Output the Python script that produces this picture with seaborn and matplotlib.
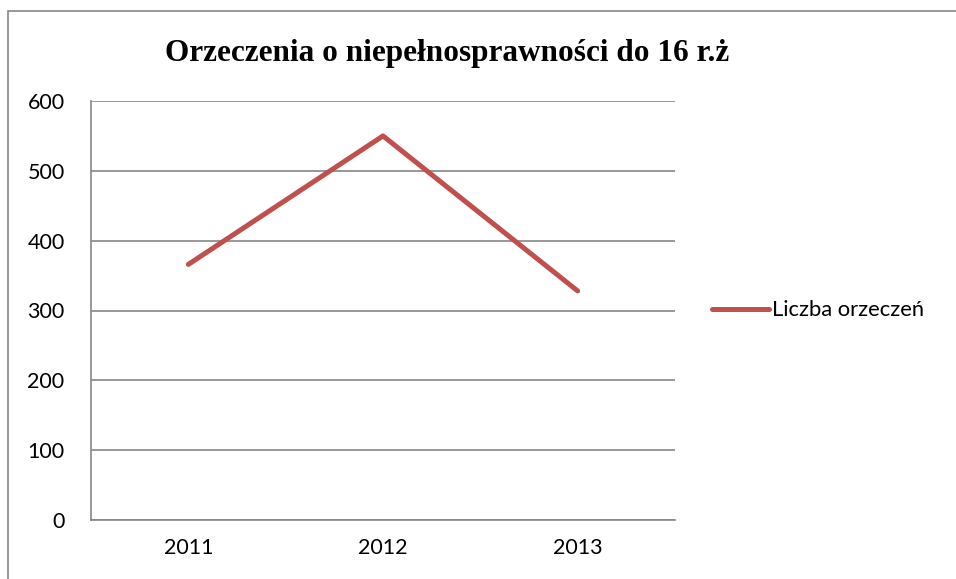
import matplotlib
matplotlib.use("Agg")
import matplotlib.pyplot as plt
import matplotlib.patches as patches
import seaborn as sns
import pandas as pd

years = ["2011", "2012", "2013"]
counts = [366, 550, 328]
series_name = "Liczba orzeczeń"
title = "Orzeczenia o niepełnosprawności do 16 r.ż"
y_ticks = [0, 100, 200, 300, 400, 500, 600]

sns.set_style("white")
plt.rcParams["font.family"] = ["Lato", "DejaVu Sans"]
plt.rcParams["text.color"] = "black"
plt.rcParams["xtick.color"] = "black"
plt.rcParams["ytick.color"] = "black"

df = pd.DataFrame({"pos": range(len(years)), "count": counts, "series": series_name})

fig = plt.figure(figsize=(9.56, 5.79), dpi=100)
ax = fig.add_axes([91 / 956, 1 - 520 / 579, (675 - 91) / 956, (520 - 101) / 579])

grid_col = "#868686"
sns.lineplot(data=df, x="pos", y="count", hue="series", palette=["#C0504D"],
             linewidth=3.6, solid_capstyle="round", ax=ax, legend=True)

ax.set_xlim(-0.5, len(years) - 0.5)
ax.set_ylim(0, 600)
ax.set_yticks(y_ticks)
ax.set_yticklabels([str(v) for v in y_ticks], fontsize=15.5)
ax.yaxis.grid(True, color=grid_col, linewidth=1.2)
ax.set_axisbelow(True)

ax.set_xticks([i - 0.5 for i in range(len(years) + 1)])
ax.set_xticklabels([])
ax.set_xticks(list(range(len(years))), minor=True)
ax.set_xticklabels(years, minor=True, fontsize=15.5)
ax.tick_params(axis="x", which="major", direction="out", length=5, color=grid_col, width=1.2)
ax.tick_params(axis="x", which="minor", length=0, pad=13)
ax.tick_params(axis="y", direction="out", length=6, color=grid_col, width=1.2, pad=13)
ax.set_xlabel("")
ax.set_ylabel("")

for side in ["top", "right"]:
    ax.spines[side].set_visible(False)
for side in ["left", "bottom"]:
    ax.spines[side].set_color(grid_col)
    ax.spines[side].set_linewidth(1.2)

leg = ax.legend(loc="center left", bbox_to_anchor=(1.03, 0.5), frameon=False,
                fontsize=15.8, handlelength=2.6, handletextpad=0.1)

fig.text(447 / 956, 1 - 53 / 579, title, ha="center", va="center",
         fontsize=22.5, fontweight="bold", family="Liberation Serif")

border = patches.Rectangle((8 / 956, -0.1), 1.2, 1.1 - 11 / 579,
                           transform=fig.transFigure, fill=False,
                           edgecolor=grid_col, linewidth=1.2, clip_on=False)
fig.patches.append(border)

fig.savefig("out.png", dpi=100)
